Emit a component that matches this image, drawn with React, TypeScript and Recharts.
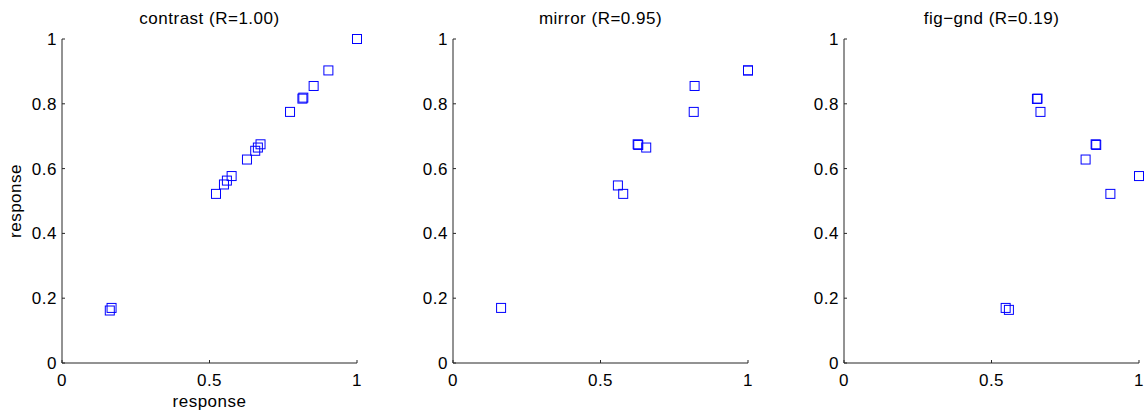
import { ScatterChart, Scatter, XAxis, YAxis } from "recharts";

const xTicks = [0, 0.5, 1];
const yTicks = [0, 0.2, 0.4, 0.6, 0.8, 1];

const contrastX = [0.168, 0.162, 0.522, 0.549, 0.559, 0.575, 0.627, 0.655, 0.664, 0.673, 0.773, 0.815, 0.818, 0.853, 0.903, 1.0];
const contrastY = [0.17, 0.162, 0.522, 0.551, 0.563, 0.577, 0.628, 0.655, 0.665, 0.675, 0.775, 0.816, 0.819, 0.855, 0.903, 1.0];

const mirrorX = [0.163, 0.559, 0.577, 0.626, 0.628, 0.655, 0.816, 0.819, 1.0, 1.0];
const mirrorY = [0.17, 0.548, 0.522, 0.675, 0.673, 0.665, 0.775, 0.855, 0.903, 0.903];

const figGndX = [0.548, 0.559, 0.654, 0.656, 0.666, 0.819, 0.853, 0.855, 0.903, 1.0];
const figGndY = [0.17, 0.164, 0.815, 0.816, 0.775, 0.628, 0.675, 0.673, 0.522, 0.577];

const titles = ["contrast (R=1.00)", "mirror (R=0.95)", "fig\u2212gnd (R=0.19)"];

const toPoints = (xs: number[], ys: number[]) => xs.map((x, i) => ({ x, y: ys[i] }));

const panels = [
  toPoints(contrastX, contrastY),
  toPoints(mirrorX, mirrorY),
  toPoints(figGndX, figGndY),
];

const FONT = "'Liberation Sans', Arial, Helvetica, sans-serif";
const AXIS = "#262626";
const BLUE = "#0000ff";

const Square = (props: any) => {
  const { cx, cy } = props;
  return <rect x={cx - 4.5} y={cy - 4.5} width={9} height={9} fill="none" stroke={BLUE} strokeWidth={1} />;
};

const YLabel = (props: any) => {
  const vb = props.viewBox;
  const x = vb.x + 21;
  const y = vb.y + vb.height / 2;
  return (
    <text x={x} y={y} transform={`rotate(-90, ${x}, ${y})`} textAnchor="middle" fill="#000" fontSize={17}>
      response
    </text>
  );
};

const fmt = (v: number) => String(v);

function Panel({ data, index }: { data: { x: number; y: number }[]; index: number }) {
  const width = index === 2 ? 363 : 391;
  const right = index === 2 ? 6 : 34;
  const first = index === 0;
  return (
    <div style={{ position: "absolute", left: index * 391, top: 0, width, height: 414 }}>
      <div
        style={{
          position: "absolute",
          left: 62,
          width: 295,
          top: 9,
          textAlign: "center",
          fontSize: 17,
          lineHeight: "19px",
          color: "#000",
          whiteSpace: "nowrap",
        }}
      >
        {titles[index]}
      </div>
      <ScatterChart width={width} height={414} margin={{ top: 39, right, bottom: 0, left: 0 }}>
        <XAxis
          type="number"
          dataKey="x"
          domain={[0, 1]}
          ticks={xTicks}
          tickFormatter={fmt}
          height={51}
          tickSize={-3}
          tickMargin={14}
          axisLine={{ stroke: AXIS }}
          tickLine={{ stroke: AXIS }}
          tick={{ fill: "#000", fontSize: 17 }}
          label={first ? { value: "response", position: "insideBottom", offset: 7, fill: "#000", fontSize: 17 } : undefined}
        />
        <YAxis
          type="number"
          dataKey="y"
          domain={[0, 1]}
          ticks={yTicks}
          tickFormatter={fmt}
          width={62}
          tickSize={-3}
          tickMargin={8}
          axisLine={{ stroke: AXIS }}
          tickLine={{ stroke: AXIS }}
          tick={{ fill: "#000", fontSize: 17 }}
          label={first ? YLabel : undefined}
        />
        <Scatter data={data} shape={Square} isAnimationActive={false} />
      </ScatterChart>
    </div>
  );
}

export default function App() {
  return (
    <div
      style={{
        position: "absolute",
        left: 0,
        top: 0,
        width: 1145,
        height: 414,
        overflow: "hidden",
        background: "#fff",
        fontFamily: FONT,
        letterSpacing: "0.5px",
      }}
    >
      {panels.map((d, i) => (
        <Panel key={i} data={d} index={i} />
      ))}
    </div>
  );
}
